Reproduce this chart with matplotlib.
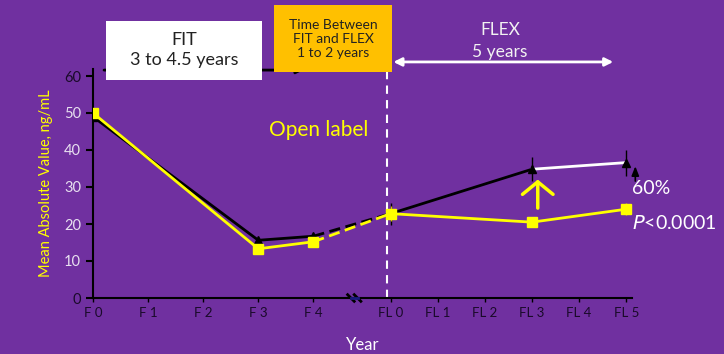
import numpy as np
import matplotlib.pyplot as plt
from matplotlib.patches import Rectangle

plt.rcParams['font.family'] = ['Lato', 'DejaVu Sans']

# ---- data ----
f_labels = ["F 0", "F 1", "F 2", "F 3", "F 4"]
fl_labels = ["FL 0", "FL 1", "FL 2", "FL 3", "FL 4", "FL 5"]

# FIT phase (F0, F3, F4)
fit_idx = [0, 3, 4]
fit_yellow = [50.0, 13.3, 15.2]
fit_black = [49.0, 15.6, 16.7]

# FLEX phase (FL0, FL3, FL5)
flex_idx = [0, 3, 5]
flex_yellow = [22.8, 20.5, 24.0]
flex_black = [22.8, 34.8, 36.6]
flex_yellow_err = [2.0, 1.0, 1.6]
flex_black_err = [3.0, 3.2, 3.5]

PURPLE = "#7030A0"
YELLOW = "#FFFF00"
ORANGE = "#FFC000"

# category positions on the x scale (FIT years, gap, then FLEX years)
f_pos = np.arange(len(f_labels), dtype=float)
fl_pos = 5.4 + 0.855 * np.arange(len(fl_labels))

fig = plt.figure(figsize=(7.24, 3.54), dpi=100, facecolor=PURPLE)
ax = fig.add_axes([93 / 724, 1 - 298 / 354, (632 - 93) / 724, (298 - 68.6) / 354])
ax.set_facecolor(PURPLE)

fx = f_pos[fit_idx]
lx = fl_pos[flex_idx]

# black series
ax.plot(fx, fit_black, color="black", lw=2, zorder=3)
ax.plot(fx, fit_black, ls="none", marker="^", ms=6, color="black", zorder=3)
ax.plot([fx[-1], lx[0]], [fit_black[-1], flex_black[0]], color="black", lw=2, ls=(0, (4, 2)), zorder=3)
ax.plot(lx[:2], flex_black[:2], color="black", lw=2, zorder=3)
ax.plot(lx[1:], flex_black[1:], color="white", lw=2, zorder=3)
ax.errorbar(lx, flex_black, yerr=flex_black_err, fmt="^", ms=6, color="black",
            ecolor="black", elinewidth=1, capsize=0, zorder=4)

# yellow series
ax.plot(fx, fit_yellow, color=YELLOW, lw=2, marker="s", ms=7, zorder=5)
ax.plot([fx[-1], lx[0]], [fit_yellow[-1], flex_yellow[0]], color=YELLOW, lw=2, ls=(0, (4, 2)), zorder=5)
ax.errorbar(lx, flex_yellow, yerr=flex_yellow_err, fmt="-s", ms=7, color=YELLOW, lw=2,
            ecolor="#d2c200", elinewidth=1, capsize=0, zorder=5)

# axes styling
ax.set_xlim(0, 9.78)
ax.set_ylim(0, 62)
ax.set_yticks(range(0, 61, 10))
ax.set_xticks(np.concatenate([f_pos, fl_pos]))
ax.set_xticklabels(f_labels + fl_labels, fontsize=9.5)
for s in ["top", "right"]:
    ax.spines[s].set_visible(False)
for s in ["left", "bottom"]:
    ax.spines[s].set_color("black")
    ax.spines[s].set_linewidth(1.5)
ax.tick_params(axis="y", direction="out", length=5, width=1.5, colors="black", labelsize=10.5)
ax.tick_params(axis="x", direction="out", length=3, width=1, colors="black")
ylab_colors = ["#1a0a2a", "#e8e0f0", "#e8e0f0", "#e8e0f0", "#e8e0f0", "#e8e0f0", "#1a0a2a"]
for lab, c in zip(ax.get_yticklabels(), ylab_colors):
    lab.set_color(c)
for lab in ax.get_xticklabels():
    lab.set_color("#1a0a2a")

ax.set_ylabel("Mean Absolute Value, ng/mL", color=YELLOW, fontsize=10.5, labelpad=8)
ax.set_xlabel("Year", color="white", fontsize=12)
ax.xaxis.set_label_coords(0.5, -0.17)

# axis break marks
for xb in [4.68, 4.80]:
    ax.plot([xb - 0.06, xb + 0.06], [0.9, -0.9], color="black", lw=2, clip_on=False, zorder=6)
ax.plot([4.68, 4.80], [0, 0], color="#1a1a80", lw=2, clip_on=False, zorder=6)

# boundary between FIT and FLEX
ax.plot([5.33, 5.33], [0, 62.5], color="white", lw=1.5, ls=(0, (4, 3)), clip_on=False, zorder=2)

# FIT arrow (behind box)
ax.annotate("", xy=(3.87, 61.6), xytext=(0.15, 61.6), annotation_clip=False,
            arrowprops=dict(arrowstyle="-|>", color="black", lw=2, mutation_scale=10))
# FLEX double arrow
ax.annotate("", xy=(9.44, 63.8), xytext=(5.45, 63.8), annotation_clip=False,
            arrowprops=dict(arrowstyle="<|-|>", color="white", lw=2, mutation_scale=12,
                            shrinkA=0, shrinkB=0))

# up arrows
ax.annotate("", xy=(8.07, 32.0), xytext=(8.07, 24.3),
            arrowprops=dict(arrowstyle="->,head_length=0.45,head_width=0.55", color=YELLOW, lw=2.5,
                            mutation_scale=20, shrinkA=0, shrinkB=0))
ax.annotate("", xy=(9.84, 35.6), xytext=(9.84, 31.6), annotation_clip=False,
            arrowprops=dict(arrowstyle="-|>,head_length=0.55,head_width=0.22", color="black", lw=1.2,
                            mutation_scale=10, shrinkA=0, shrinkB=0))

ax.text(4.1, 45.5, "Open label", color=YELLOW, fontsize=15, ha="center", va="center")

# boxes in figure coordinates
fig.patches.append(Rectangle((106 / 724, 1 - 80 / 354), 156 / 724, 59 / 354,
                             transform=fig.transFigure, facecolor="white", edgecolor="none", zorder=10))
fig.text(184 / 724, 1 - 50 / 354, "FIT\n3 to 4.5 years", ha="center", va="center",
         fontsize=13, linespacing=1.35, color="#222222", zorder=11)
fig.patches.append(Rectangle((274 / 724, 1 - 72 / 354), 118 / 724, 67 / 354,
                             transform=fig.transFigure, facecolor=ORANGE, edgecolor="none", zorder=10))
fig.text(333 / 724, 1 - 39 / 354, "Time Between\nFIT and FLEX\n1 to 2 years", ha="center", va="center",
         fontsize=10, linespacing=1.2, color="#222222", zorder=11)
fig.text(500 / 724, 1 - 41 / 354, "FLEX\n5 years", ha="center", va="center",
         fontsize=12.5, linespacing=1.4, color="#f2f2f2", zorder=11)

fig.text(632 / 724, 1 - 188 / 354, "60%", ha="left", va="center", fontsize=14, color="white")
fig.text(632 / 724, 1 - 223 / 354, r"$\it{P}$<0.0001", ha="left", va="center", fontsize=14, color="white")

fig.savefig("out.png", dpi=100, facecolor=PURPLE)
